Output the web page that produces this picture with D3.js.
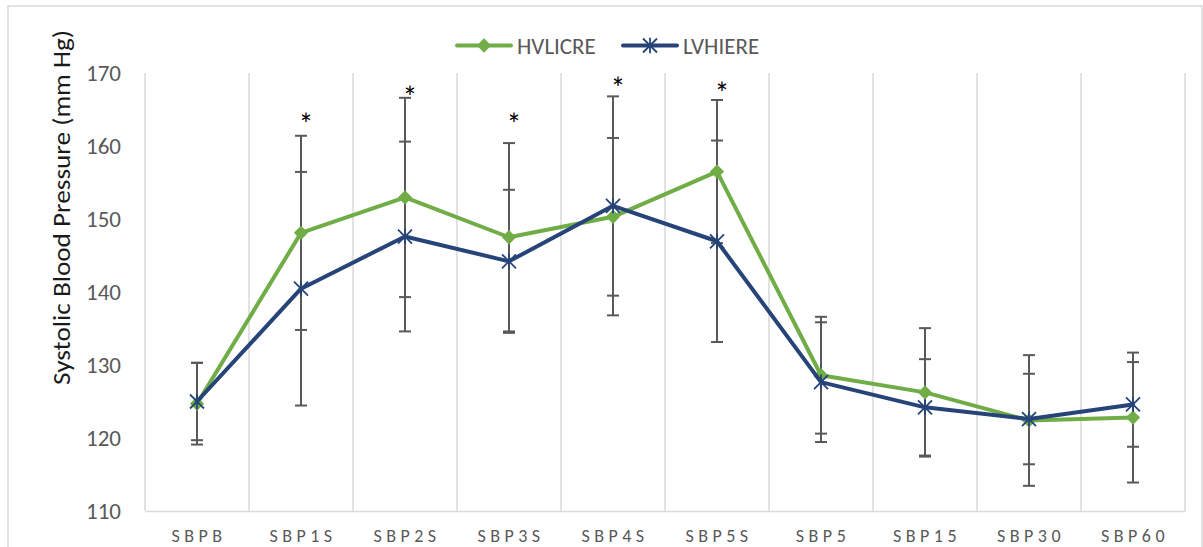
<!DOCTYPE html>
<html>
<head>
<meta charset="utf-8">
<script src="https://cdn.jsdelivr.net/npm/d3@7"></script>
<style>
  html, body { margin: 0; padding: 0; background: #fff; }
  svg { display: block; }
  text { font-family: Carlito, Calibri, Lato, "Open Sans", sans-serif; }
</style>
</head>
<body>
<svg id="chart" width="1203" height="547"></svg>
<script>
// ---- data ----
const categories = ["SBPB", "SBP1S", "SBP2S", "SBP3S", "SBP4S", "SBP5S", "SBP5", "SBP15", "SBP30", "SBP60"];
const seriesNames = ["HVLICRE", "LVHIERE"];
const hvlicre    = [124.7, 148.1, 152.95, 147.5, 150.3, 156.5, 128.6, 126.25, 122.4, 122.8];
const hvlicreErr = [5.6, 13.3, 13.65, 12.9, 10.8, 9.8, 8.0, 8.8, 8.95, 8.9];
const lvhiere    = [125.0, 140.45, 147.6, 144.2, 151.8, 146.95, 127.65, 124.2, 122.6, 124.6];
const lvhiereErr = [5.3, 16.0, 13.0, 9.8, 15.0, 13.8, 8.2, 6.6, 6.2, 5.8];
const sigMarks   = ["", "*", "*", "*", "*", "*", "", "", "", ""];
const sigLevels  = [null, 163.85, 167.5, 163.85, 168.8, 168.1, null, null, null, null];
const yTicks = [110, 120, 130, 140, 150, 160, 170];
const yTitle = "Systolic Blood Pressure (mm Hg)";

// ---- layout ----
const plot = { left: 145, right: 1185, top: 73, bottom: 511 };
const green = "#70AD47", blue = "#264478", errCol = "#595959", gridCol = "#D9D9D9";

const svg = d3.select("#chart");

// chart border
svg.append("rect").attr("x", 8).attr("y", 6).attr("width", 1194).attr("height", 560)
  .attr("fill", "#fff").attr("stroke", gridCol).attr("stroke-width", 1.5);

const x = d3.scaleBand().domain(categories).range([plot.left, plot.right]).padding(0);
const y = d3.scaleLinear().domain([110, 170]).range([plot.bottom, plot.top]);
const cx = c => x(c) + x.bandwidth() / 2;

// vertical gridlines at band boundaries
const bounds = categories.map(c => x(c)).concat([plot.right]);
svg.append("g").selectAll("line").data(bounds).join("line")
  .attr("x1", d => d).attr("x2", d => d)
  .attr("y1", plot.top).attr("y2", plot.bottom)
  .attr("stroke", gridCol).attr("stroke-width", 1.5);

// x axis (line + labels)
const xAxis = svg.append("g").attr("transform", `translate(0,${plot.bottom})`)
  .call(d3.axisBottom(x).tickSize(0).tickPadding(0));
xAxis.select(".domain").attr("stroke", gridCol).attr("stroke-width", 1.5);
xAxis.selectAll(".tick text")
  .attr("y", 31).attr("dy", 0)
  .attr("fill", "#595959").attr("font-size", 18).attr("letter-spacing", "4.5px")
  .style("font-family", "Carlito, Calibri, Lato, sans-serif")
  .attr("dx", 2);

// y axis labels
const yAxis = svg.append("g").attr("transform", `translate(${plot.left},0)`)
  .call(d3.axisLeft(y).tickValues(yTicks).tickSize(0).tickPadding(24));
yAxis.select(".domain").remove();
yAxis.selectAll(".tick text")
  .attr("fill", "#595959").attr("font-size", 23)
  .style("font-family", "Carlito, Calibri, Lato, sans-serif");

// y title
svg.append("text")
  .attr("transform", `translate(70,${(30 + 385) / 2}) rotate(-90)`)
  .attr("text-anchor", "middle")
  .attr("fill", "#1a1a1a").attr("font-size", 24)
  .attr("textLength", 355).attr("lengthAdjust", "spacingAndGlyphs")
  .text(yTitle);

// error bars
function errorBars(vals, errs) {
  const g = svg.append("g").attr("stroke", errCol).attr("stroke-width", 2).attr("fill", "none");
  categories.forEach((c, i) => {
    const xc = cx(c), lo = y(vals[i] - errs[i]), hi = y(vals[i] + errs[i]);
    g.append("line").attr("x1", xc).attr("x2", xc).attr("y1", lo).attr("y2", hi);
    g.append("line").attr("x1", xc - 6).attr("x2", xc + 6).attr("y1", lo).attr("y2", lo);
    g.append("line").attr("x1", xc - 6).attr("x2", xc + 6).attr("y1", hi).attr("y2", hi);
  });
}
errorBars(hvlicre, hvlicreErr);
errorBars(lvhiere, lvhiereErr);

const line = d3.line().x((d, i) => cx(categories[i])).y(d => y(d));

const diamond = d3.symbol().type(d3.symbolDiamond2).size(130);
function starPath(r) {
  return `M${-r},${-r}L${r},${r}M${-r},${r}L${r},${-r}M0,${-r * 1.1}L0,${r * 1.1}`;
}

// green series
svg.append("path").datum(hvlicre).attr("d", line)
  .attr("fill", "none").attr("stroke", green).attr("stroke-width", 4).attr("stroke-linejoin", "round").attr("stroke-linecap", "round");
svg.append("g").selectAll("path").data(hvlicre).join("path")
  .attr("transform", (d, i) => `translate(${cx(categories[i])},${y(d)})`)
  .attr("d", diamond).attr("fill", green);

// blue series
svg.append("path").datum(lvhiere).attr("d", line)
  .attr("fill", "none").attr("stroke", blue).attr("stroke-width", 4).attr("stroke-linejoin", "round").attr("stroke-linecap", "round");
svg.append("g").selectAll("path").data(lvhiere).join("path")
  .attr("transform", (d, i) => `translate(${cx(categories[i])},${y(d)})`)
  .attr("d", starPath(7)).attr("fill", "none").attr("stroke", blue).attr("stroke-width", 1.8);

// significance asterisks
svg.append("g").selectAll("text").data(categories.map((c, i) => ({ c, m: sigMarks[i], v: sigLevels[i] })).filter(d => d.m))
  .join("text")
  .attr("x", d => cx(d.c) + 5).attr("y", d => y(d.v) + 17)
  .attr("text-anchor", "middle").attr("font-size", 30).attr("fill", "#000")
  .text(d => d.m);

// legend
const legend = svg.append("g");
const legItems = [
  { name: seriesNames[0], color: green, x0: 457, type: "diamond" },
  { name: seriesNames[1], color: blue, x0: 623, type: "star" }
];
const ly = 45.5;
legItems.forEach(it => {
  legend.append("line").attr("x1", it.x0).attr("x2", it.x0 + 54).attr("y1", ly).attr("y2", ly)
    .attr("stroke", it.color).attr("stroke-width", 4).attr("stroke-linecap", "round");
  if (it.type === "diamond") {
    legend.append("path").attr("transform", `translate(${it.x0 + 27},${ly})`).attr("d", diamond).attr("fill", it.color);
  } else {
    legend.append("path").attr("transform", `translate(${it.x0 + 27},${ly})`).attr("d", starPath(7))
      .attr("fill", "none").attr("stroke", it.color).attr("stroke-width", 1.8);
  }
  legend.append("text").attr("x", it.x0 + 60).attr("y", ly + 8)
    .attr("fill", "#595959").attr("font-size", 23).text(it.name);
});
</script>
</body>
</html>
